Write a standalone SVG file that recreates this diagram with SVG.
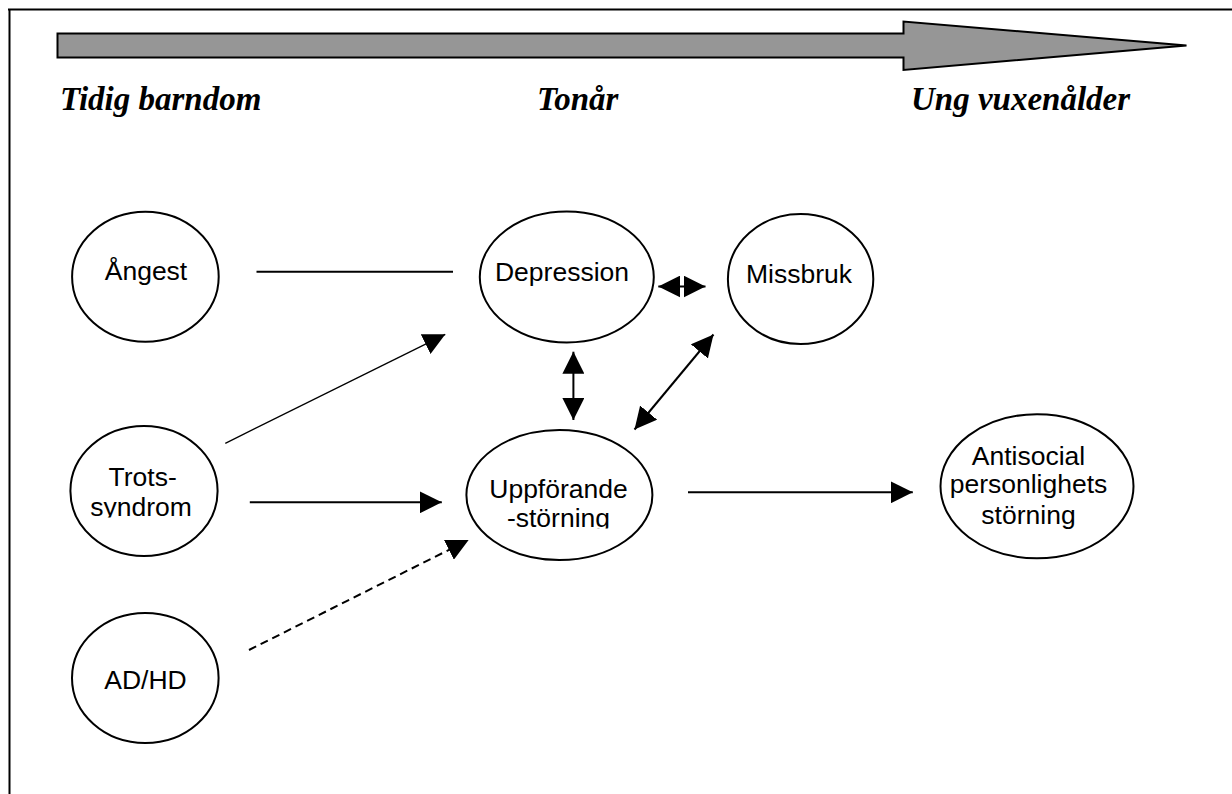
<svg xmlns="http://www.w3.org/2000/svg" width="1232" height="794" viewBox="0 0 1232 794">
<style>
.node{fill:#fff;stroke:#000;stroke-width:2}
.lbl{font-family:"Liberation Sans",Arial,sans-serif;font-size:26.5px;fill:#000;text-anchor:middle}
.hdr{font-family:"Liberation Serif","Times New Roman",serif;font-size:33px;font-weight:bold;font-style:italic;fill:#000}
.ln{fill:none;stroke:#000;stroke-width:2}
</style>
<defs>
<marker id="ah" markerUnits="userSpaceOnUse" markerWidth="22" markerHeight="22" viewBox="0 0 20 20" refX="20" refY="10" orient="auto-start-reverse">
<path d="M0,0 L20,10 L0,20 Z" fill="#000"/>
</marker>
<clipPath id="clipTrots"><rect x="60" y="420" width="170" height="97.5"/></clipPath>
<clipPath id="clipUpp"><rect x="460" y="420" width="200" height="108.5"/></clipPath>
</defs>
<rect width="1232" height="794" fill="#fff"/>
<g id="frame">
<line x1="8" y1="9.5" x2="1232" y2="9.5" stroke="#000" stroke-width="2"/>
<line x1="9.5" y1="9" x2="9.5" y2="794" stroke="#000" stroke-width="2"/>
</g>
<g id="timeline">
<path d="M57.5,33.5 L903.5,33.5 L903.5,21.5 L1186.5,45.5 L903.5,70 L903.5,57.5 L57.5,57.5 Z" fill="#969696" stroke="#000" stroke-width="2" stroke-linejoin="miter"/>
<text class="hdr" x="60" y="110">Tidig barndom</text>
<text class="hdr" x="537" y="110">Tonår</text>
<text class="hdr" x="911" y="110">Ung vuxenålder</text>
</g>
<g id="connectors">
<line class="ln" x1="256.5" y1="271.7" x2="453" y2="271.7"/>
<line class="ln" x1="658.3" y1="286.5" x2="705.5" y2="286.5" marker-start="url(#ah)" marker-end="url(#ah)"/>
<line class="ln" x1="573.4" y1="351.7" x2="573.4" y2="420" marker-start="url(#ah)" marker-end="url(#ah)"/>
<line class="ln" x1="634.5" y1="429.5" x2="713.5" y2="334.5" marker-start="url(#ah)" marker-end="url(#ah)"/>
<line x1="225.3" y1="443.3" x2="445.3" y2="334.3" fill="none" stroke="#000" stroke-width="1.3" marker-end="url(#ah)"/>
<line class="ln" x1="249.8" y1="502.3" x2="441.8" y2="502.3" marker-end="url(#ah)"/>
<line class="ln" x1="249" y1="650" x2="468.6" y2="540" stroke-dasharray="8,5" marker-end="url(#ah)"/>
<line class="ln" x1="688" y1="492.3" x2="912.8" y2="492.3" marker-end="url(#ah)"/>
</g>
<g id="angest">
<ellipse class="node" cx="145.4" cy="276.8" rx="73.3" ry="65"/>
<text class="lbl" x="146" y="280">Ångest</text>
</g>
<g id="depression">
<ellipse class="node" cx="566.8" cy="277" rx="87" ry="65.5"/>
<text class="lbl" x="562" y="281">Depression</text>
</g>
<g id="missbruk">
<ellipse class="node" cx="800.6" cy="279" rx="72.7" ry="65"/>
<text class="lbl" x="799" y="283.3">Missbruk</text>
</g>
<g id="trots">
<ellipse class="node" cx="144" cy="491" rx="73.6" ry="65"/>
<g clip-path="url(#clipTrots)">
<text class="lbl" x="142.7" y="485.7">Trots-</text>
<text class="lbl" x="141.1" y="516">syndrom</text>
</g>
</g>
<g id="uppforande">
<ellipse class="node" cx="559.4" cy="495" rx="93" ry="65"/>
<g clip-path="url(#clipUpp)">
<text class="lbl" x="558.5" y="497.7">Uppförande</text>
<text class="lbl" x="558.5" y="527">-störning</text>
</g>
</g>
<g id="adhd">
<ellipse class="node" cx="145.3" cy="678" rx="73.3" ry="65"/>
<text class="lbl" x="145.5" y="689">AD/HD</text>
</g>
<g id="antisocial">
<ellipse class="node" cx="1037" cy="486.3" rx="96.5" ry="72"/>
<text class="lbl" x="1028.5" y="465">Antisocial</text>
<text class="lbl" x="1028.5" y="493.3">personlighets</text>
<text class="lbl" x="1028.5" y="524">störning</text>
</g>
</svg>
